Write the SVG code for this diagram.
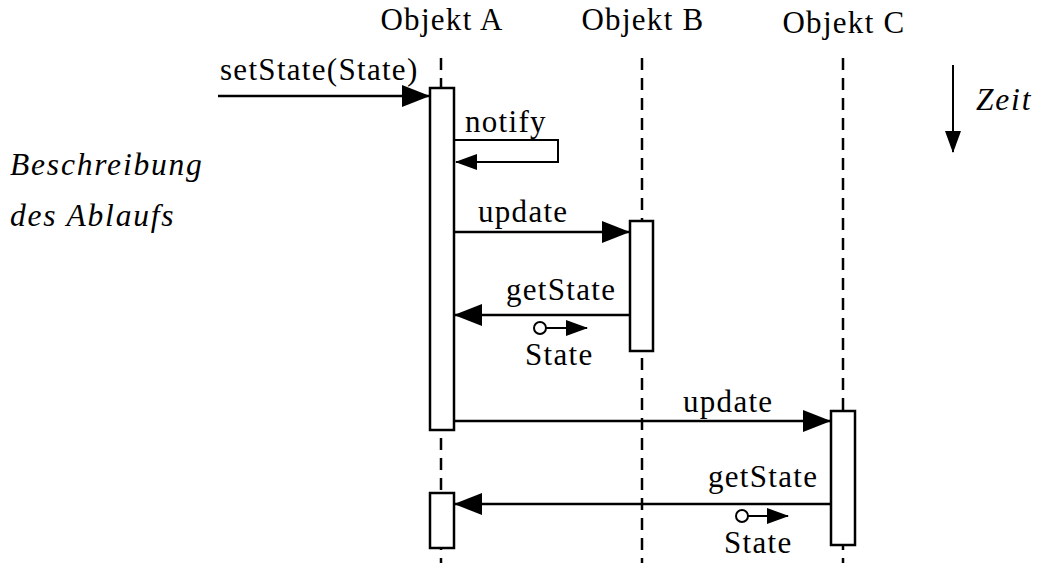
<svg xmlns="http://www.w3.org/2000/svg" width="1042" height="563" viewBox="0 0 1042 563">
<style>
text{font-family:"Liberation Serif","Times New Roman",serif;font-size:31px;letter-spacing:1.3px;fill:#000}
.it{font-style:italic;font-size:31.5px;letter-spacing:1.8px}
.life{stroke:#000;stroke-width:2.5;stroke-dasharray:12,8;fill:none}
.box{fill:#fff;stroke:#000;stroke-width:2.5}
.msg{stroke:#000;stroke-width:2.5;fill:none}
.thin{stroke:#000;stroke-width:2;fill:none}
</style>
<defs>
<marker id="ah" markerUnits="userSpaceOnUse" markerWidth="28" markerHeight="22" refX="27" refY="11" orient="auto" viewBox="0 0 28 22">
<path d="M0,0 L28,11 L0,22 Z" fill="#000"/>
</marker>
<marker id="ahs" markerUnits="userSpaceOnUse" markerWidth="22" markerHeight="16" refX="21" refY="8" orient="auto" viewBox="0 0 22 16">
<path d="M0,0 L22,8 L0,16 Z" fill="#000"/>
</marker>
</defs>
<g id="objA">
<text x="442" y="30" text-anchor="middle">Objekt A</text>
<line class="life" x1="441" y1="58" x2="441" y2="563"/>
<rect class="box" x="430" y="88" width="24" height="342"/>
<rect class="box" x="430" y="493" width="24" height="55"/>
</g>
<g id="objB">
<text x="643" y="30" text-anchor="middle">Objekt B</text>
<line class="life" x1="642" y1="58" x2="642" y2="563"/>
<rect class="box" x="630" y="221" width="23" height="130"/>
</g>
<g id="objC">
<text x="844" y="33" text-anchor="middle">Objekt C</text>
<line class="life" x1="843" y1="58" x2="843" y2="563"/>
<rect class="box" x="831" y="411" width="24" height="134"/>
</g>
<g id="time">
<line class="thin" x1="953" y1="65" x2="953" y2="152" marker-end="url(#ahs)"/>
<text class="it" x="976" y="110">Zeit</text>
</g>
<g id="desc">
<text class="it" x="10" y="175">Beschreibung</text>
<text class="it" x="10" y="226">des Ablaufs</text>
</g>
<g id="connectors">
<line class="msg" x1="218" y1="96" x2="429" y2="96" marker-end="url(#ah)"/>
<text x="220" y="80">setState(State)</text>
<polyline class="thin" points="455,140 558,140 558,162 456,162" marker-end="url(#ahs)"/>
<text x="465" y="132">notify</text>
<line class="msg" x1="455" y1="232" x2="629" y2="232" marker-end="url(#ah)"/>
<text x="478" y="222">update</text>
<line class="msg" x1="629" y1="315" x2="455" y2="315" marker-end="url(#ah)"/>
<text x="506" y="300">getState</text>
<circle class="thin" cx="540" cy="328" r="6" fill="#fff"/>
<line class="thin" x1="546" y1="328" x2="587" y2="328" marker-end="url(#ahs)"/>
<text x="525" y="365">State</text>
<line class="msg" x1="455" y1="421" x2="830" y2="421" marker-end="url(#ah)"/>
<text x="683" y="412">update</text>
<line class="msg" x1="830" y1="504" x2="455" y2="504" marker-end="url(#ah)"/>
<text x="708" y="487">getState</text>
<circle class="thin" cx="742" cy="516" r="6" fill="#fff"/>
<line class="thin" x1="748" y1="516" x2="788" y2="516" marker-end="url(#ahs)"/>
<text x="724" y="553">State</text>
</g>
</svg>
